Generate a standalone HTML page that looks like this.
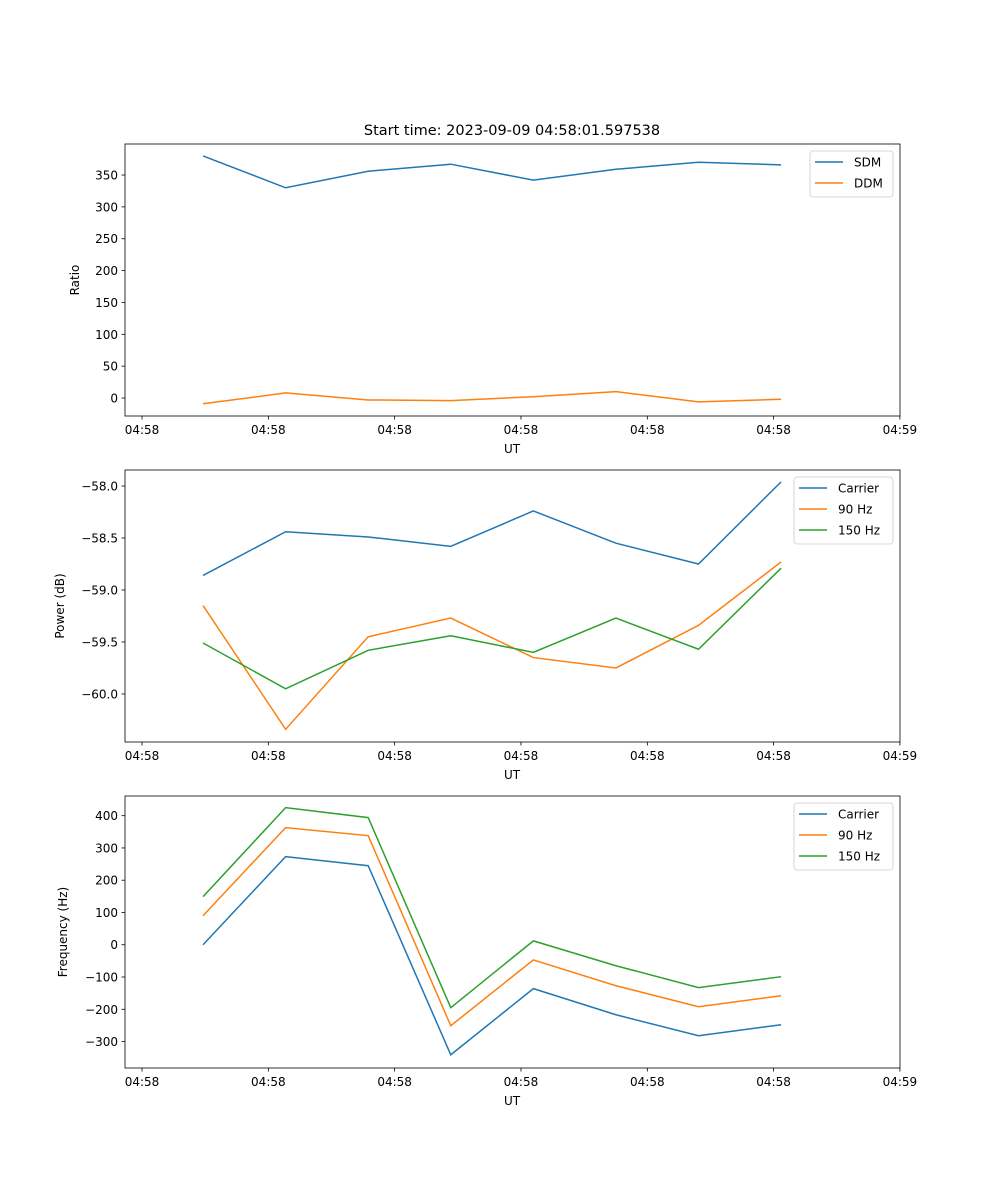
<!DOCTYPE html>
<html><head><meta charset="utf-8"><style>
body{margin:0;background:#fff}
svg{display:block;font-family:"DejaVu Sans","Liberation Sans",sans-serif}
</style></head><body>
<svg id="fig" width="1000" height="1200" viewBox="0 0 1000 1200" xmlns="http://www.w3.org/2000/svg">
<rect width="1000" height="1200" fill="#fff"/>
<text x="512" y="135" font-size="14.5" text-anchor="middle">Start time: 2023-09-09 04:58:01.597538</text>
</svg>
<script>
const xIndex=[0,1,2,3,4,5,6,7];
const xTickLabels=["04:58","04:58","04:58","04:58","04:58","04:58","04:59"];
const xTickPos=[-0.739,0.791,2.320,3.850,5.380,6.909,8.439];
const sdm=[380,330,356,367,342,359,370,366];
const ddm=[-9,8,-3,-4,2,10,-6,-2];
const pCarrier=[-58.86,-58.44,-58.49,-58.58,-58.24,-58.55,-58.75,-57.96];
const p90=[-59.15,-60.34,-59.45,-59.27,-59.65,-59.75,-59.34,-58.73];
const p150=[-59.51,-59.95,-59.58,-59.44,-59.60,-59.27,-59.57,-58.79];
const fCarrier=[0,273,245,-341,-136,-217,-282,-248];
const f90=[90,363,338,-251,-47,-127,-192,-158];
const f150=[149,425,394,-195,12,-65,-133,-99];
const ratioTicks=[0,50,100,150,200,250,300,350];
const powerTicks=[-60.0,-59.5,-59.0,-58.5,-58.0];
const freqTicks=[-300,-200,-100,0,100,200,300,400];

const NS="http://www.w3.org/2000/svg";
const svg=document.getElementById('fig');
function el(t,a,p){const e=document.createElementNS(NS,t);for(const k in a)e.setAttribute(k,a[k]);(p||svg).appendChild(e);return e;}
const L=125,R=900,xmin=-0.945,xmax=8.44;
const X=v=>L+(v-xmin)/(xmax-xmin)*(R-L);

function panel(name,top,bot,ymin,ymax,yticks,fmt,ylabel,series,legend){
  const g=el('g',{});
  
  
  const Y=v=>bot-(v-ymin)/(ymax-ymin)*(bot-top);
  series.forEach(s=>{
    const pl=el('polyline',{points:s.d.map((v,i)=>X(xIndex[i])+','+Y(v)).join(' '),fill:'none',stroke:s.c,'stroke-width':1.5},g);
    
    
  });
  el('rect',{x:L,y:top,width:R-L,height:bot-top,fill:'none',stroke:'#000','stroke-width':0.8},g);
  xTickPos.forEach((v,i)=>{
    const x=X(v);
    el('line',{x1:x,x2:x,y1:bot,y2:bot+3.5,stroke:'#000','stroke-width':0.8},g);
    const t=el('text',{x:x,y:bot+18,'font-size':12,'text-anchor':'middle'},g);
    t.textContent=xTickLabels[i];
    
    
  });
  yticks.forEach(v=>{
    const y=Y(v);
    el('line',{x1:L,x2:L-3.5,y1:y,y2:y,stroke:'#000','stroke-width':0.8},g);
    const t=el('text',{x:L-7,y:y+4.5,'font-size':12,'text-anchor':'end'},g);
    t.textContent=fmt(v);
    
    
  });
  const xl=el('text',{x:512,y:bot+37,'font-size':12,'text-anchor':'middle'},g);
  xl.textContent='UT';
  
  
  const cy=(top+bot)/2, lx=legend.ylx;
  const yl=el('text',{x:lx,y:cy,'font-size':12,'text-anchor':'middle',transform:`rotate(-90 ${lx} ${cy})`},g);
  yl.textContent=ylabel;
  
  
  const lg=el('g',{},g);
  
  
  const bx=legend.x,by=top+7,bw=R-7-bx,bh=4+series.length*21;
  el('rect',{x:bx,y:by,width:bw,height:bh,rx:3,fill:'#fff','fill-opacity':0.8,stroke:'#ccc','stroke-width':0.8},lg);
  series.forEach((s,i)=>{
    const yy=by+11+i*21;
    el('line',{x1:bx+5,x2:bx+33,y1:yy,y2:yy,stroke:s.c,'stroke-width':1.5},lg);
    const t=el('text',{x:bx+44,y:yy+4.5,'font-size':12},lg);
    t.textContent=s.label;
    
    
  });
}
const B='#1f77b4',O='#ff7f0e',G='#2ca02c';
panel('ratio',144,416,-28.2,398.7,ratioTicks,v=>String(v),'Ratio',
  [{n:'sdm',d:sdm,c:B,label:'SDM'},{n:'ddm',d:ddm,c:O,label:'DDM'}],{x:810,ylx:79});
panel('power',470,742,-60.462,-57.846,powerTicks,v=>v.toFixed(1).replace('-','\u2212'),'Power (dB)',
  [{n:'power-carrier',d:pCarrier,c:B,label:'Carrier'},{n:'power-90hz',d:p90,c:O,label:'90 Hz'},{n:'power-150hz',d:p150,c:G,label:'150 Hz'}],{x:794,ylx:64});
panel('frequency',796,1068,-382,461,freqTicks,v=>String(v).replace('-','\u2212'),'Frequency (Hz)',
  [{n:'freq-carrier',d:fCarrier,c:B,label:'Carrier'},{n:'freq-90hz',d:f90,c:O,label:'90 Hz'},{n:'freq-150hz',d:f150,c:G,label:'150 Hz'}],{x:794,ylx:67});
</script>
</body></html>
